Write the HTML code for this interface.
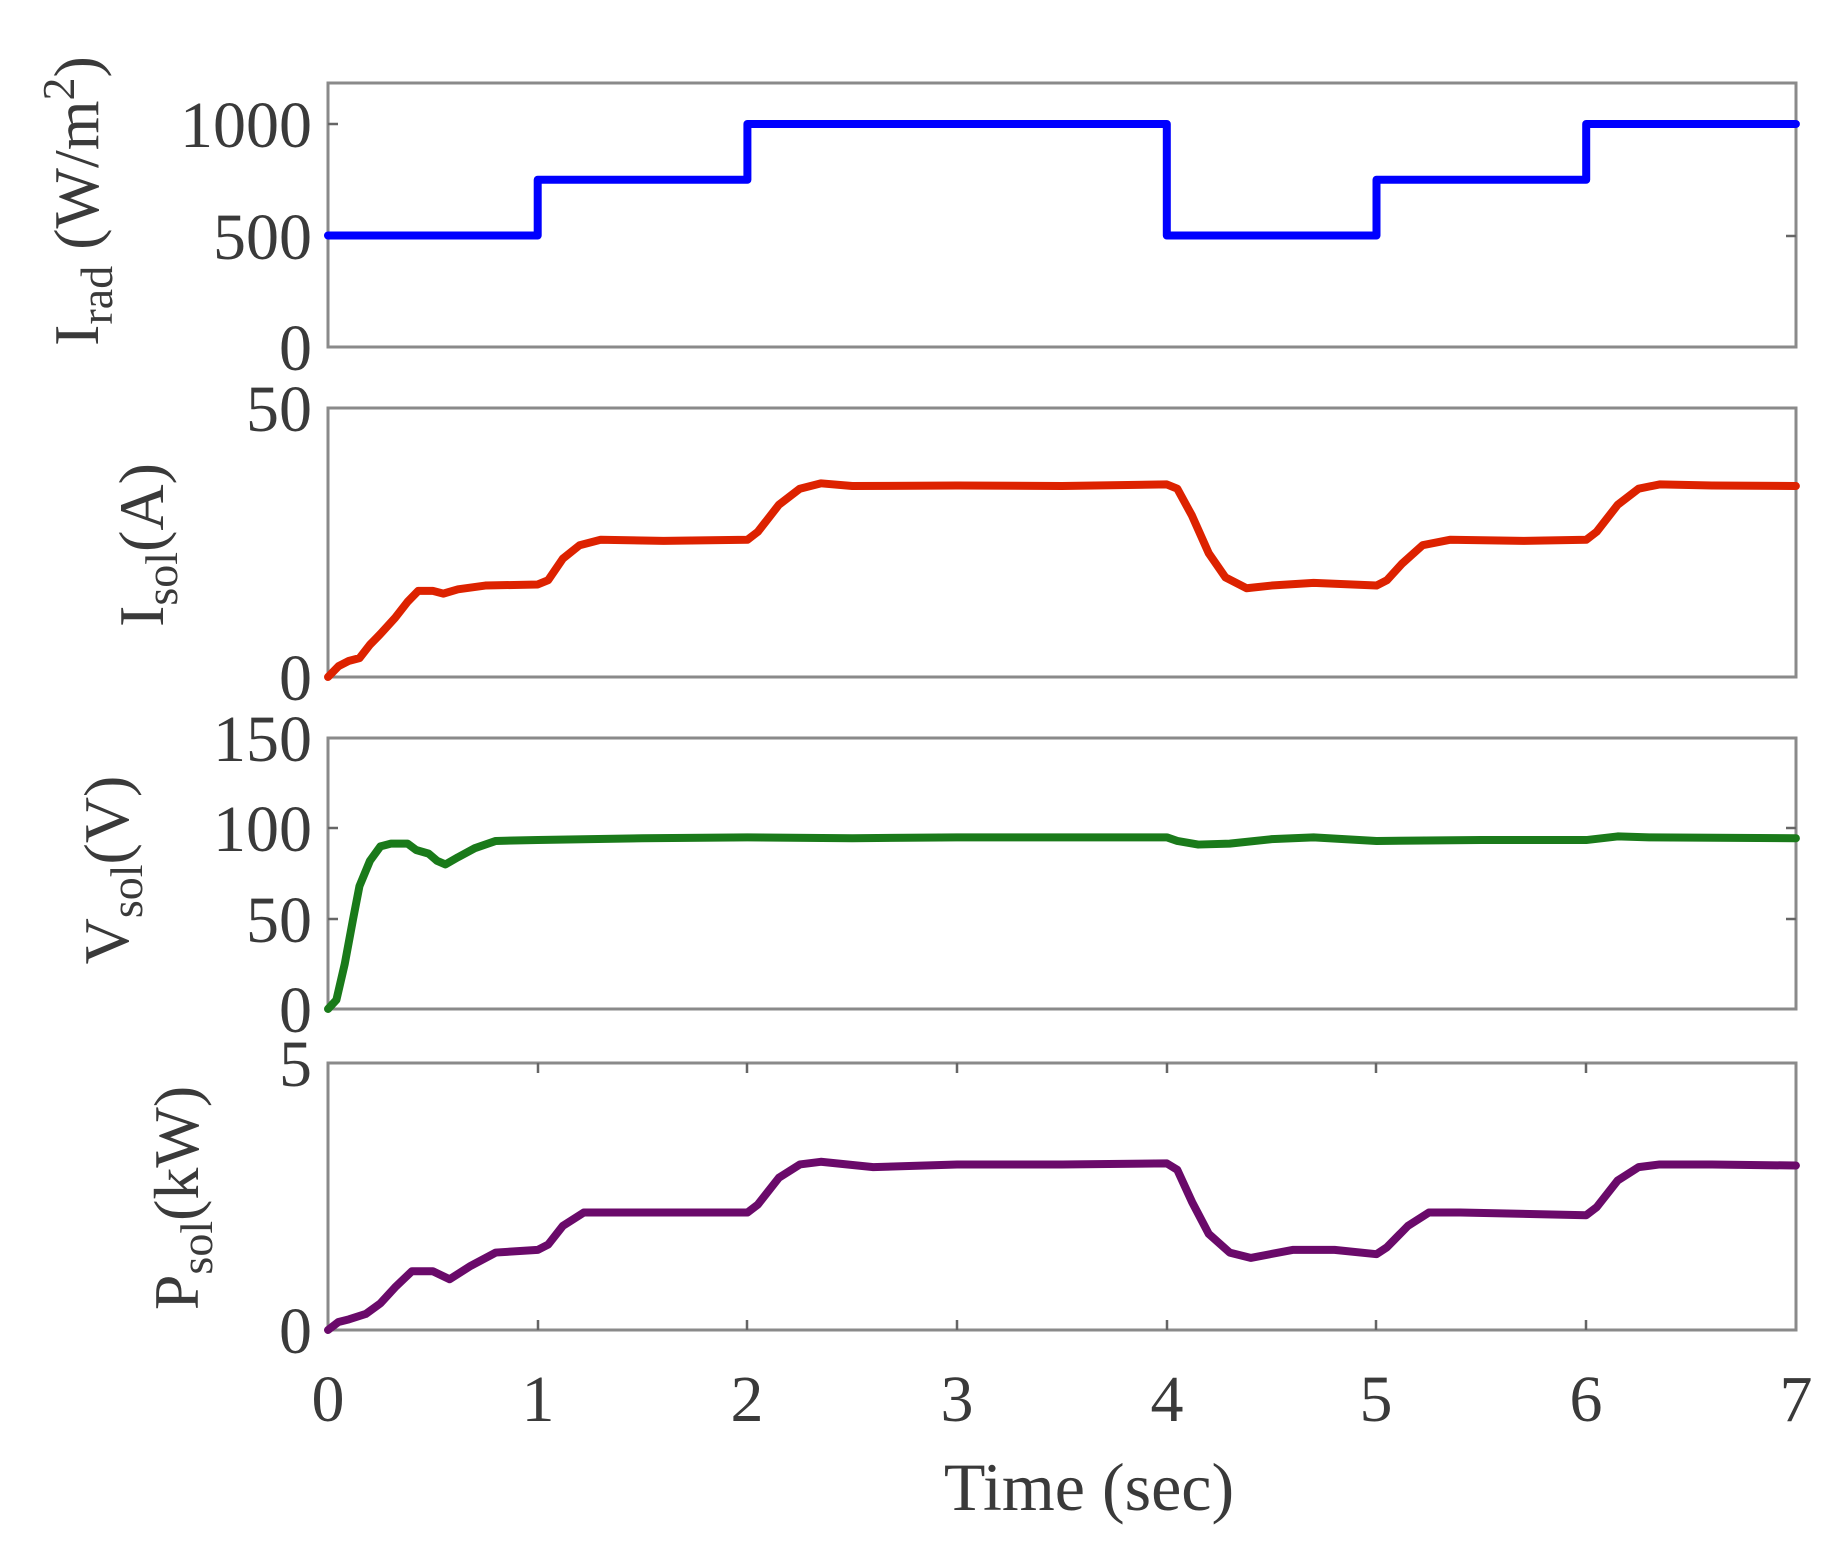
<!DOCTYPE html>
<html><head><meta charset="utf-8"><style>
html,body{margin:0;padding:0;background:#fff}
svg{display:block}
text{font-family:"Liberation Serif",serif;fill:#3a3a3a}
.box{fill:none;stroke:#8a8a8a;stroke-width:3}
.tk{stroke:#666;stroke-width:2.5}
.ln{fill:none;vector-effect:non-scaling-stroke;stroke-width:8;stroke-linejoin:round;stroke-linecap:round}
</style></head><body>
<svg width="1847" height="1546" viewBox="0 0 1847 1546" xmlns="http://www.w3.org/2000/svg">
<rect class="box" x="328" y="83" width="1468" height="264"/>
<rect class="box" x="328" y="408" width="1468" height="269"/>
<rect class="box" x="328" y="738" width="1468" height="271"/>
<rect class="box" x="328" y="1063" width="1468" height="267"/>
<g class="tk">
<path d="M328 236h10M328 124h10M1796 236h-10M1796 124h-10"/>
<path d="M328 919h10M328 828h10M1796 919h-10M1796 828h-10"/>
<path d="M538 1063v10M747 1063v10M957 1063v10M1167 1063v10M1376 1063v10M1586 1063v10"/>
<path d="M538 1330v-10M747 1330v-10M957 1330v-10M1167 1330v-10M1376 1330v-10M1586 1330v-10"/>
</g>
<g font-size="66" text-anchor="end">
<text x="312" y="147">1000</text><text x="312" y="259">500</text><text x="312" y="370">0</text>
<text x="312" y="431">50</text><text x="312" y="700">0</text>
<text x="312" y="761">150</text><text x="312" y="851">100</text><text x="312" y="942">50</text><text x="312" y="1032">0</text>
<text x="312" y="1086">5</text><text x="312" y="1353">0</text>
</g>
<g font-size="66" text-anchor="middle">
<text x="328" y="1421">0</text><text x="538" y="1421">1</text><text x="747" y="1421">2</text><text x="957" y="1421">3</text><text x="1167" y="1421">4</text><text x="1376" y="1421">5</text><text x="1586" y="1421">6</text><text x="1796" y="1421">7</text>
</g>
<text x="1089" y="1510" font-size="68" text-anchor="middle" fill="#555">Time (sec)</text>
<g font-size="64">
<text transform="translate(98,201) rotate(-90)" text-anchor="middle">I<tspan font-size="46" dy="14">rad</tspan><tspan dy="-14"> (W/m</tspan><tspan font-size="46" dy="-24">2</tspan><tspan dy="24">)</tspan></text>
<text transform="translate(163,545) rotate(-90)" text-anchor="middle">I<tspan font-size="46" dy="14">sol</tspan><tspan dy="-14">(A)</tspan></text>
<text transform="translate(128,870) rotate(-90)" text-anchor="middle">V<tspan font-size="46" dy="14">sol</tspan><tspan dy="-14">(V)</tspan></text>
<text transform="translate(198,1198) rotate(-90)" text-anchor="middle">P<tspan font-size="46" dy="14">sol</tspan><tspan dy="-14">(kW)</tspan></text>
</g>
<g transform="translate(328,347) scale(209.7,-0.223)">
<path class="ln" stroke="#0000ff" d="M0 500H1V750H2V1000H4V500H5V750H6V1000H7"/>
</g>
<g transform="translate(328,677) scale(209.7,-5.38)">
<path class="ln" stroke="#dd2200" d="M0 0L0.05 2L0.1 3L0.15 3.5L0.2 6L0.25 8L0.32 11L0.38 14L0.43 16L0.5 16L0.55 15.5L0.62 16.3L0.75 17L1 17.2L1.05 18L1.12 22L1.2 24.5L1.3 25.5L1.6 25.3L2 25.5L2.05 27L2.15 32L2.25 35L2.35 36L2.5 35.5L3 35.6L3.5 35.5L4 35.8L4.05 35L4.12 30L4.2 23L4.28 18.5L4.38 16.5L4.5 17L4.7 17.5L5 17L5.05 18L5.12 21L5.22 24.5L5.35 25.5L5.7 25.3L6 25.5L6.05 27L6.15 32L6.25 35L6.35 35.8L6.6 35.6L7 35.5"/>
</g>
<g transform="translate(328,1009) scale(209.7,-1.807)">
<path class="ln" stroke="#1a7a1a" d="M0 0L0.04 5L0.08 25L0.12 50L0.15 68L0.2 82L0.25 90L0.3 91.5L0.38 91.5L0.42 88L0.48 86L0.52 82L0.56 80L0.62 84L0.7 89L0.8 93L1 93.5L1.5 94.5L2 95L2.5 94.5L3 95L3.5 95L4 95L4.05 93L4.15 91L4.3 91.5L4.5 94L4.7 95L5 93L5.5 93.5L6 93.5L6.15 95.5L6.3 95L7 94.5"/>
</g>
<g transform="translate(328,1330) scale(209.7,-53.4)">
<path class="ln" stroke="#6a0a6a" d="M0 0L0.05 0.15L0.1 0.2L0.18 0.3L0.25 0.5L0.32 0.8L0.4 1.1L0.5 1.1L0.58 0.95L0.68 1.2L0.8 1.45L1 1.5L1.05 1.6L1.12 1.95L1.22 2.2L1.35 2.2L2 2.2L2.05 2.35L2.15 2.85L2.25 3.1L2.35 3.15L2.6 3.05L3 3.1L3.5 3.1L4 3.12L4.05 3L4.12 2.4L4.2 1.8L4.3 1.45L4.4 1.35L4.6 1.5L4.8 1.5L5 1.42L5.05 1.55L5.15 1.95L5.25 2.2L5.4 2.2L6 2.15L6.05 2.3L6.15 2.8L6.25 3.05L6.35 3.1L6.6 3.1L7 3.08"/>
</g>
</svg>
</body></html>
